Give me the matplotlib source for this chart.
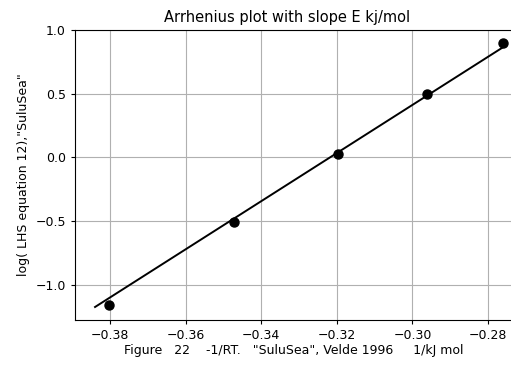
import matplotlib
matplotlib.use("Agg")
import matplotlib.pyplot as plt

# points
inv_rt = [-0.3802, -0.3473, -0.3197, -0.2961, -0.2761]
log_lhs = [-1.157, -0.51, 0.03, 0.50, 0.898]

# fitted line end points
fit_x = [-0.3840, -0.2758]
fit_y = [-1.173, 0.869]

xticks = [-0.38, -0.36, -0.34, -0.32, -0.30, -0.28]
yticks = [-1.0, -0.5, 0.0, 0.5, 1.0]

fig = plt.figure(figsize=(5.11, 3.65), dpi=100)
ax = fig.add_axes([0.1468, 0.1233, 0.857, 0.7945])

ax.plot(fit_x, fit_y, color="black", linewidth=1.4)
ax.plot(inv_rt, log_lhs, "o", color="black", markersize=6.5)

ax.set_xlim(-0.3893, -0.2734)
ax.set_ylim(-1.275, 1.0)
ax.set_xticks(xticks)
ax.set_yticks(yticks)
ax.grid(True, color="#b0b0b0", linewidth=0.8)
ax.set_axisbelow(True)

ax.set_title("Arrhenius plot with slope E kj/mol", fontsize=10.5, x=0.484)
ax.set_xlabel('Figure   22    -1/RT.   "SuluSea", Velde 1996     1/kJ mol', fontsize=9, labelpad=1)
ax.set_ylabel('log( LHS equation 12),"SuluSea"', fontsize=9)
ax.tick_params(axis="both", labelsize=9, length=3.2)

fig.savefig("out.png", dpi=100)
